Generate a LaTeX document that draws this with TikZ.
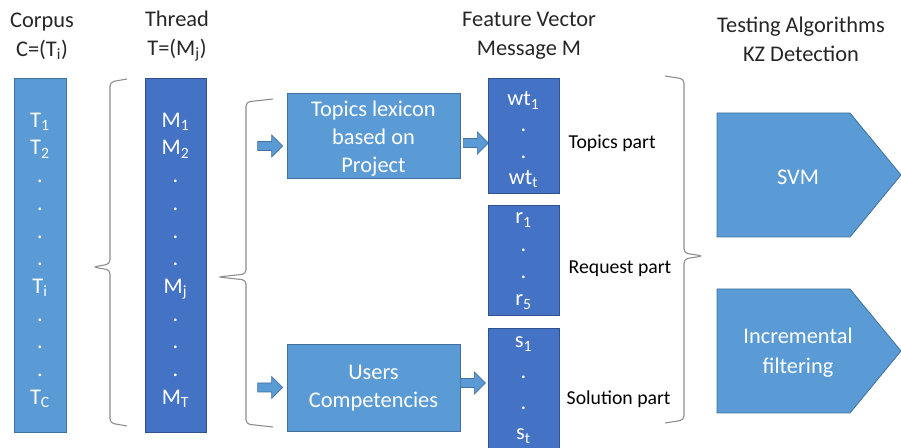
\documentclass[tikz,border=0pt]{standalone}
\usepackage{fontspec}
\setmainfont{Carlito}
\usepackage{xcolor}
\usetikzlibrary{positioning}

\definecolor{lightblu}{HTML}{5B9BD5}
\definecolor{lightedge}{HTML}{41719C}
\definecolor{darkblu}{HTML}{4472C4}
\definecolor{darkedge}{HTML}{2F528F}
\definecolor{headgray}{HTML}{262626}
\definecolor{bracegray}{HTML}{8C8C8C}

\newcommand{\sbs}[1]{\textsubscript{#1}}

\tikzset{
  lightbar/.style={draw=lightedge, fill=lightblu, line width=0.6pt, text=white, align=center, inner sep=0pt},
  darkbar/.style={draw=darkedge, fill=darkblu, line width=0.6pt, text=white, align=center, inner sep=0pt},
  itemtext/.style={text=white, align=center, inner sep=0pt},
  pics/blockarr/.style={code={
    \draw[draw=lightedge, fill=lightblu, line width=0.5pt]
      (0,-4.5) -- (14,-4.5) -- (14,-11) -- (25,0) -- (14,11) -- (14,4.5) -- (0,4.5) -- cycle;}},
  brc/.style={draw=bracegray, line width=0.8pt, rounded corners=3pt},
  heading/.style={text=headgray, align=center, font=\fontsize{16.8}{21.75}\selectfont},
  parttext/.style={text=black, anchor=west, font=\fontsize{14.8}{18}\selectfont}
}

\begin{document}
\begin{tikzpicture}[x=0.75pt, y=-0.75pt, font=\fontsize{16.8}{20.8}\selectfont]

\clip (0,0) rectangle (901,448);

% Column headings
\node[heading] (hcorpus) at (42,36) {Corpus\\C=(T\sbs{i})};
\node[heading] (hthread) at (177,36) {Thread\\T=(M\sbs{j})};
\node[heading] (hvector) at (529,36) {Feature Vector\\Message M};
\node[heading] (htest) at (801,39) {Testing Algorithms\\KZ Detection};

% Corpus and thread bars
\node[lightbar, minimum width=39pt, minimum height=265.5pt] (corpus) at (40,255) {};
\node[itemtext] (corpuslist) at ([yshift=-4pt]corpus.center)
  {T\sbs{1}\\T\sbs{2}\\.\\.\\.\\.\\T\sbs{i}\\.\\.\\.\\T\sbs{C}};
\node[darkbar, minimum width=45.75pt, minimum height=265.5pt] (thread) at (175.5,255) {};
\node[itemtext] (threadlist) at ([yshift=-4pt]thread.center)
  {M\sbs{1}\\M\sbs{2}\\.\\.\\.\\.\\M\sbs{j}\\.\\.\\.\\M\sbs{T}};

% Braces
\draw[brc] (127,79) -- (110,82) -- (110,264) -- (93,267) -- (110,270) -- (110,423) -- (127,426);
\draw[brc] (273,99) -- (246,102) -- (246,274) -- (218,277) -- (246,280) -- (246,424) -- (273,427);
\draw[brc] (665,76) -- (684,79) -- (684,253) -- (703,256) -- (684,259) -- (684,420) -- (665,423);

% Lexicon boxes
\node[lightbar, minimum width=129.75pt, minimum height=63.75pt] (topics) at (373.5,135.5) {};
\node[itemtext] (topicstext) at ([yshift=-2.5pt]topics.center) {Topics lexicon\\based on\\Project};
\node[lightbar, minimum width=129.75pt, minimum height=65.25pt] (users) at (373.5,387.5) {};
\node[itemtext] (userstext) at ([yshift=-0.5pt]users.center) {Users\\Competencies};

% Block arrows
\pic at ([shift={(-29,10.5)}]topics.west) {blockarr};
\pic at ([shift={(-29,0)}]users.west) {blockarr};
\pic at ([shift={(3,7.5)}]topics.east) {blockarr};
\pic at ([shift={(0,-4.5)}]users.east) {blockarr};

% Feature vector parts
\node[darkbar, minimum width=53.25pt, minimum height=86.25pt] (wtpart) at (523.5,135.5) {};
\node[itemtext, font=\fontsize{16.8}{19.6}\selectfont] (wtlist) at ([yshift=-3.2pt]wtpart.center)
  {wt\sbs{1}\\.\\.\\wt\sbs{t}};
\node[darkbar, minimum width=53.25pt, minimum height=82.5pt] (rpart) at (523.5,260) {};
\node[itemtext, font=\fontsize{16.8}{20.5}\selectfont] (rlist) at ([yshift=-1pt]rpart.center)
  {r\sbs{1}\\.\\.\\r\sbs{5}};
\node[darkbar, minimum width=53.25pt, minimum height=91.5pt] (spart) at (523.5,389) {};
\node[itemtext, font=\fontsize{16.8}{23}\selectfont] (slist) at ([yshift=-1pt]spart.center)
  {s\sbs{1}\\.\\.\\s\sbs{t}};

\node[parttext] (ltopics) at (564,143) {Topics part};
\node[parttext] (lrequest) at (564,269) {Request part};
\node[parttext] (lsolution) at (562,399) {Solution part};

% Testing algorithms
\draw[draw=lightedge, fill=lightblu, line width=0.6pt]
  (717,113) -- (850,113) -- (901,175) -- (850,237) -- (717,237) -- cycle;
\node[text=white] (svm) at (798,177) {SVM};
\draw[draw=lightedge, fill=lightblu, line width=0.6pt]
  (717,289) -- (850,289) -- (901,351) -- (850,413) -- (717,413) -- cycle;
\node[text=white, align=center, font=\fontsize{16.8}{22.5}\selectfont] (incr) at (798,353) {Incremental\\filtering};

\end{tikzpicture}
\end{document}
